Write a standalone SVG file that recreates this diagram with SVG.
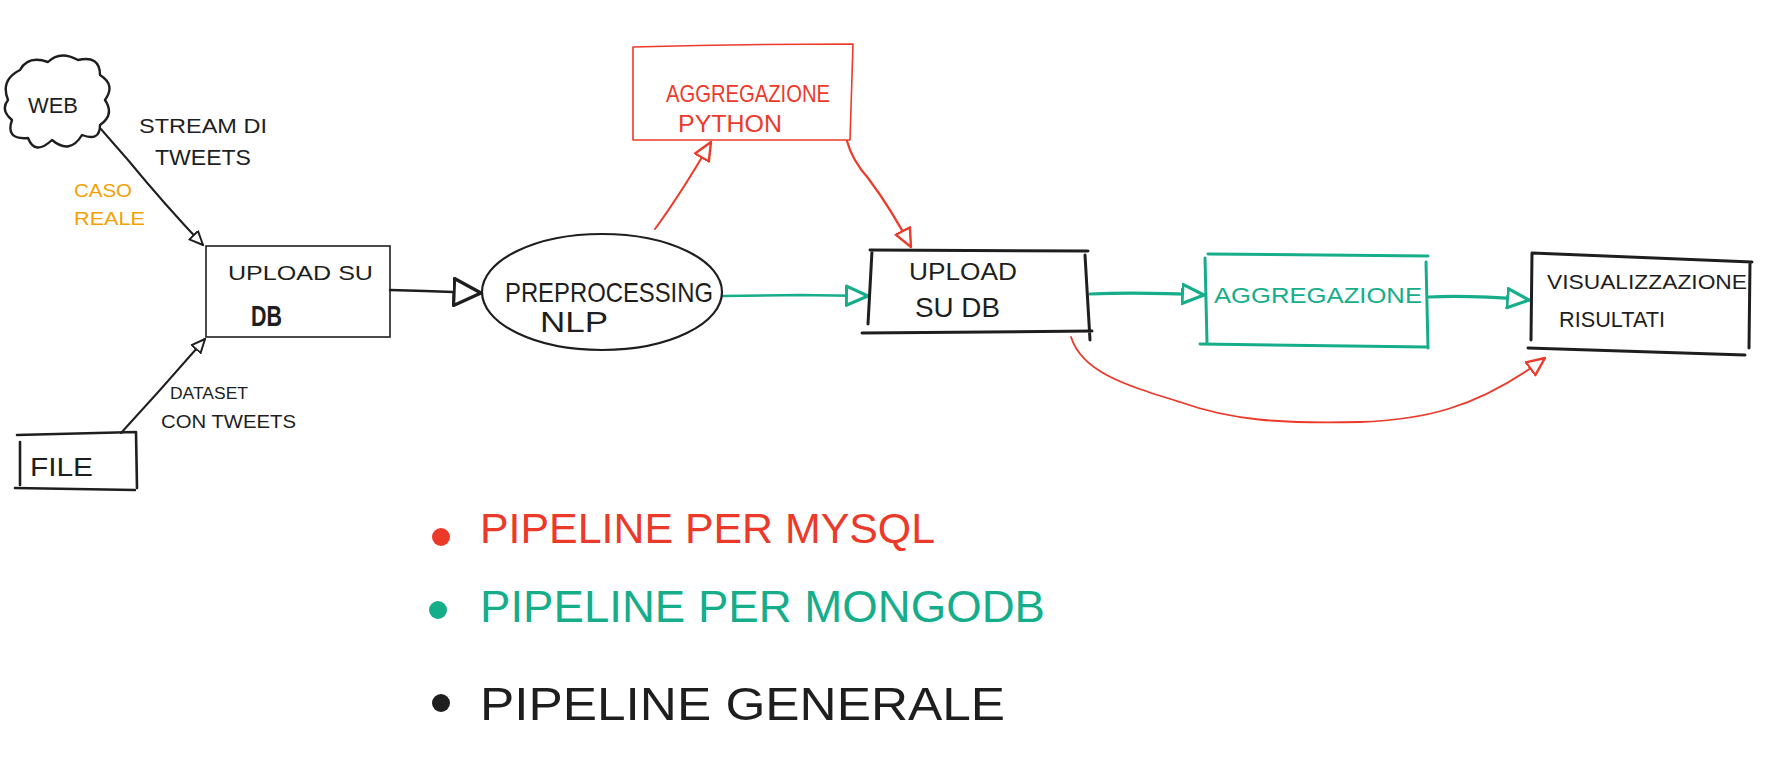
<svg xmlns="http://www.w3.org/2000/svg" width="1771" height="771" viewBox="0 0 1771 771">
<style>
.t{font-family:"Liberation Sans","DejaVu Sans",sans-serif;fill:#1e1e1e}
.r{fill:#ec3a2a}
.g{fill:#16ad8b}
.o{fill:#f59f00}
.sk{fill:none;stroke:#1e1e1e;stroke-linecap:round;stroke-linejoin:round}
.skr{fill:none;stroke:#ec3a2a;stroke-linecap:round;stroke-linejoin:round}
.skg{fill:none;stroke:#16ad8b;stroke-linecap:round;stroke-linejoin:round}
</style>
<defs>
<marker id="ab" viewBox="0 0 20 20" refX="19" refY="10" markerUnits="userSpaceOnUse" markerWidth="30" markerHeight="30" orient="auto">
<path d="M1,1 L19,10 L1,19 Z" fill="#fff" stroke="#1e1e1e" stroke-width="2.2" stroke-linejoin="round"/>
</marker>
<marker id="abs" viewBox="0 0 20 20" refX="19" refY="10" markerUnits="userSpaceOnUse" markerWidth="15" markerHeight="15" orient="auto">
<path d="M1,2 L19,10 L1,18 Z" fill="#fff" stroke="#1e1e1e" stroke-width="2.6" stroke-linejoin="round"/>
</marker>
<marker id="ag" viewBox="0 0 20 20" refX="19" refY="10" markerUnits="userSpaceOnUse" markerWidth="24" markerHeight="24" orient="auto">
<path d="M1,2 L19,10 L1,18 Z" fill="#fff" stroke="#16ad8b" stroke-width="2.6" stroke-linejoin="round"/>
</marker>
<marker id="ar" viewBox="0 0 20 20" refX="19" refY="10" markerUnits="userSpaceOnUse" markerWidth="20" markerHeight="20" orient="auto">
<path d="M1,2 L19,10 L1,18 Z" fill="#fff" stroke="#ec3a2a" stroke-width="2.4" stroke-linejoin="round"/>
</marker>
</defs>
<rect width="1771" height="771" fill="#fff"/>

<g id="connectors">
<path class="sk" stroke-width="2" d="M100,128 L128,160 Q165,205 203,245" marker-end="url(#abs)"/>
<path class="sk" stroke-width="2" d="M121,433 L160,390 L205,339" marker-end="url(#abs)"/>
<path class="sk" stroke-width="2.4" d="M390,290 L425,291 L481,293" marker-end="url(#ab)"/>
<path class="skg" stroke-width="2.6" d="M723,296 L800,295 L868,296" marker-end="url(#ag)"/>
<path class="skr" stroke-width="2" d="M655,229 Q680,195 711,142" marker-end="url(#ar)"/>
<path class="skr" stroke-width="2.2" d="M847,141 Q852,160 868,178 Q892,210 911,247" marker-end="url(#ar)"/>
<path class="skg" stroke-width="3.2" d="M1090,294 Q1140,292 1204,295" marker-end="url(#ag)"/>
<path class="skg" stroke-width="3.2" d="M1429,297 Q1470,295 1529,300" marker-end="url(#ag)"/>
<path class="skr" stroke-width="1.8" d="M1071,337 C1082,372 1125,385 1180,402 C1230,420 1280,424 1360,422 C1420,420 1475,410 1545,358" marker-end="url(#ar)"/>
</g>

<g id="web">
<path class="sk" stroke-width="2.4" d="M20,70 Q28,55 48,62 Q60,50 78,60 Q100,55 100,75 Q116,85 105,100 Q115,115 100,125 Q100,142 82,135 Q70,155 52,140 Q35,156 28,138 Q5,140 12,120 Q0,110 8,100 Q0,80 20,70 Z"/>
<text class="t" x="28" y="113" font-size="22" textLength="50" lengthAdjust="spacingAndGlyphs">WEB</text>
</g>

<g id="label-stream">
<text class="t" x="139" y="133" font-size="20" textLength="128" lengthAdjust="spacingAndGlyphs">STREAM DI</text>
<text class="t" x="155" y="165" font-size="22" textLength="96" lengthAdjust="spacingAndGlyphs">TWEETS</text>
</g>

<g id="label-caso">
<text class="t o" x="74" y="197" font-size="18" textLength="58" lengthAdjust="spacingAndGlyphs">CASO</text>
<text class="t o" x="74" y="225" font-size="18" textLength="71" lengthAdjust="spacingAndGlyphs">REALE</text>
</g>

<g id="upload1">
<rect x="206" y="246" width="184" height="91" fill="none" stroke="#1e1e1e" stroke-width="1.6"/>
<text class="t" x="228" y="280" font-size="20" textLength="145" lengthAdjust="spacingAndGlyphs">UPLOAD SU</text>
<text class="t" x="251" y="326" font-size="30" font-weight="bold" textLength="31" lengthAdjust="spacingAndGlyphs">DB</text>
</g>

<g id="label-dataset">
<text class="t" x="170" y="399" font-size="16" textLength="78" lengthAdjust="spacingAndGlyphs">DATASET</text>
<text class="t" x="161" y="428" font-size="18" textLength="135" lengthAdjust="spacingAndGlyphs">CON TWEETS</text>
</g>

<g id="file">
<path class="sk" stroke-width="2.6" d="M17,435 L136,432 L137,488 M135,490 L15,488 M20,442 L20,485"/>
<text class="t" x="30" y="476" font-size="26" textLength="63" lengthAdjust="spacingAndGlyphs">FILE</text>
</g>

<g id="preprocessing">
<ellipse cx="602" cy="292" rx="120" ry="58" fill="none" stroke="#1e1e1e" stroke-width="2.2"/>
<text class="t" x="505" y="302" font-size="28" textLength="208" lengthAdjust="spacingAndGlyphs">PREPROCESSING</text>
<text class="t" x="540" y="332" font-size="30" textLength="68" lengthAdjust="spacingAndGlyphs">NLP</text>
</g>

<g id="aggregazione-python">
<path class="skr" stroke-width="1.6" d="M633,47 Q740,44 853,44 L850,140 L633,140 Z"/>
<text class="t r" x="666" y="102" font-size="24" textLength="164" lengthAdjust="spacingAndGlyphs">AGGREGAZIONE</text>
<text class="t r" x="678" y="132" font-size="24" textLength="104" lengthAdjust="spacingAndGlyphs">PYTHON</text>
</g>

<g id="upload2">
<path class="sk" stroke-width="3" d="M870,250 L1088,251 M872,251 L868,324 M862,333 L1092,331 M1085,255 L1090,340"/>
<text class="t" x="909" y="280" font-size="24" textLength="108" lengthAdjust="spacingAndGlyphs">UPLOAD</text>
<text class="t" x="915" y="317" font-size="28" textLength="85" lengthAdjust="spacingAndGlyphs">SU DB</text>
</g>

<g id="aggregazione">
<path class="skg" stroke-width="3" d="M1208,254 L1428,256 M1205,258 L1207,343 M1200,344 L1427,347 M1426,262 L1428,348"/>
<text class="t g" x="1214" y="303" font-size="22" textLength="208" lengthAdjust="spacingAndGlyphs">AGGREGAZIONE</text>
</g>

<g id="visualizzazione">
<path class="sk" stroke-width="3" d="M1532,253 L1752,262 M1532,253 L1531,340 M1750,262 L1749,348 M1528,348 L1745,355"/>
<text class="t" x="1547" y="289" font-size="20" textLength="200" lengthAdjust="spacingAndGlyphs">VISUALIZZAZIONE</text>
<text class="t" x="1559" y="327" font-size="22" textLength="106" lengthAdjust="spacingAndGlyphs">RISULTATI</text>
</g>

<g id="legend">
<circle cx="441" cy="537" r="9" fill="#ec3a2a"/>
<text class="t r" x="480" y="543" font-size="42" textLength="455" lengthAdjust="spacingAndGlyphs">PIPELINE PER MYSQL</text>
<circle cx="438" cy="610" r="9" fill="#16ad8b"/>
<text class="t g" x="480" y="622" font-size="44" textLength="565" lengthAdjust="spacingAndGlyphs">PIPELINE PER MONGODB</text>
<circle cx="441" cy="703" r="9" fill="#1e1e1e"/>
<text class="t" x="480" y="720" font-size="46" textLength="525" lengthAdjust="spacingAndGlyphs">PIPELINE GENERALE</text>
</g>
</svg>
